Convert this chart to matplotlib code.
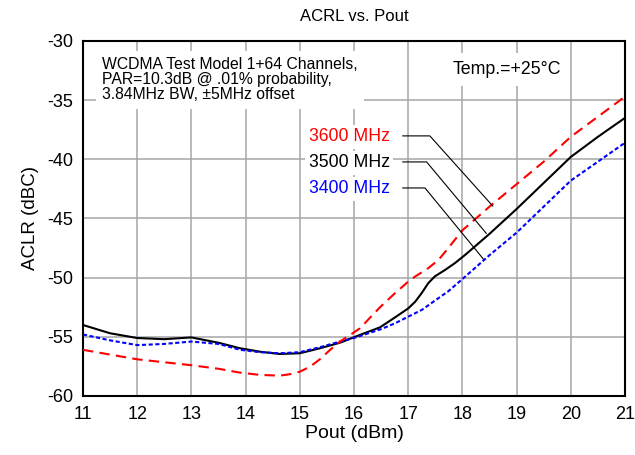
import matplotlib
matplotlib.use('Agg')
import matplotlib.pyplot as plt

plt.rcParams['font.family'] = ['Liberation Sans', 'DejaVu Sans']
plt.rcParams['axes.unicode_minus'] = False

# Values
pout_3500 = [11, 11.5, 12, 12.5, 13, 13.5, 13.9, 14.27, 14.63, 15, 15.37, 15.74, 16.11,
             16.48, 16.76, 17.0, 17.13, 17.25, 17.37, 17.49, 17.68, 17.86, 18.05, 18.5,
             19, 19.5, 20, 20.5, 21]
aclr_3500 = [-54.0, -54.7, -55.1, -55.2, -55.05, -55.5, -55.97, -56.26, -56.45, -56.39,
             -55.97, -55.5, -54.84, -54.2, -53.35, -52.6, -52.03, -51.3, -50.47, -49.9,
             -49.35, -48.78, -48.08, -46.3, -44.2, -42.0, -39.8, -38.1, -36.5]

pout_3400 = [11, 11.5, 12, 12.5, 13, 13.5, 13.9, 14.27, 14.63, 15, 15.37, 15.74, 16,
             16.5, 16.76, 17.0, 17.25, 17.49, 17.74, 18.05, 18.5, 19, 19.5, 20, 20.5, 21]
aclr_3400 = [-54.8, -55.3, -55.7, -55.6, -55.4, -55.6, -56.1, -56.3, -56.39, -56.3,
             -55.88, -55.4, -55.1, -54.35, -53.85, -53.3, -52.73, -51.95, -51.15, -49.92,
             -48.1, -46.2, -44.0, -41.8, -40.2, -38.6]

pout_3600 = [11, 11.5, 12, 12.5, 13, 13.5, 13.9, 14.27, 14.63, 14.82, 15.0, 15.19, 15.37,
             15.56, 15.74, 15.93, 16.11, 16.48, 16.76, 17.0, 17.13, 17.37, 17.56, 17.74,
             18, 18.5, 19, 19.5, 20, 20.5, 21]
aclr_3600 = [-56.1, -56.5, -56.9, -57.15, -57.4, -57.7, -58.03, -58.22, -58.28, -58.16,
             -57.95, -57.52, -56.9, -56.1, -55.4, -54.84, -54.28, -52.5, -51.3, -50.34,
             -49.9, -49.2, -48.5, -47.5, -46.0, -44.0, -42.1, -40.2, -38.1, -36.4,
             -34.7]

series_labels = ['3600 MHz', '3500 MHz', '3400 MHz']
label_y = [-38.1, -40.3, -42.5]
# leader lines: knee x and end point per label
leader_knee_x = [17.40, 17.34, 17.31]
leader_end = [(18.56, -43.94), (18.44, -46.25), (18.39, -48.44)]

fig = plt.figure(figsize=(6.35, 4.55), dpi=100)
ax = fig.add_axes([0.1307, 0.1297, 0.8535, 0.7802])

ax.plot(pout_3500, aclr_3500, color='black', lw=1.5, zorder=3)
ax.plot(pout_3400, aclr_3400, color='#0000ff', lw=1.5, ls=(0, (2, 1.2)), zorder=3)
ax.plot(pout_3600, aclr_3600, color='#ff0000', lw=1.5, ls=(0, (5, 3)), zorder=3)

ax.set_xlim(11, 21)
ax.set_ylim(-60, -30)
ax.set_xticks(range(11, 22))
ax.set_yticks(range(-60, -29, 5))
ax.grid(True, color='#a6a6a6', lw=1.1, zorder=0)
ax.set_axisbelow(True)
ax.tick_params(length=0, labelsize=13, pad=7)
for s in ax.spines.values():
    s.set_linewidth(1.5)

ax.set_xlabel('Pout (dBm)', fontsize=14, labelpad=2)
ax.set_ylabel('ACLR (dBC)', fontsize=13.5, labelpad=6)
fig.text(0.558, 0.963, 'ACRL vs. Pout', ha='center', va='center', fontsize=12)

# white boxes hide the grid behind the annotations
ax.text(11.35, -33.29,
        'WCDMA Test Model 1+64 Channels,\nPAR=10.3dB @ .01% probability,\n3.84MHz BW, \u00b15MHz offset',
        ha='left', va='center', fontsize=11.3, linespacing=1.0, zorder=2,
        bbox=dict(boxstyle='square,pad=0.4', fc='white', ec='none'))
ax.text(18.83, -32.44, 'Temp.=+25\u00b0C', ha='center', va='center', fontsize=12.8,
        zorder=2, bbox=dict(boxstyle='square,pad=0.45', fc='white', ec='none'))

colors = ['#ff0000', 'black', '#0000ff']
for lab, ly, c, kx, (ex, ey) in zip(series_labels, label_y, colors, leader_knee_x, leader_end):
    ax.text(16.66, ly, lab, ha='right', va='center', fontsize=12.7, color=c, zorder=2,
            bbox=dict(boxstyle='square,pad=0.2', fc='white', ec='none'))
    ax.plot([16.90, kx, ex], [ly + 0.08, ly + 0.08, ey], color='black', lw=0.8, zorder=4)

fig.savefig('out.png', dpi=100)
